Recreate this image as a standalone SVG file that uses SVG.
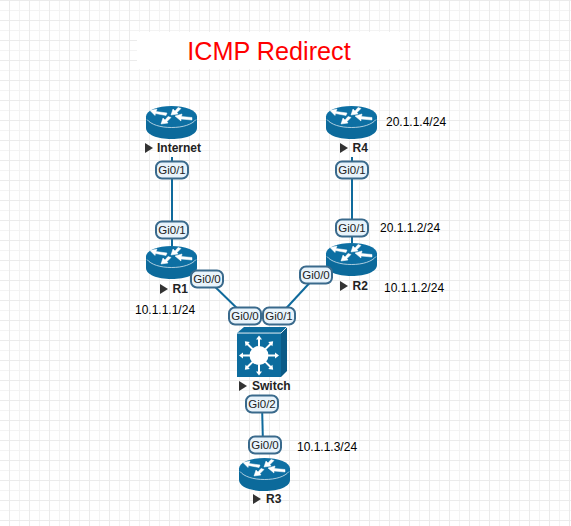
<svg xmlns="http://www.w3.org/2000/svg" width="571" height="526" viewBox="0 0 571 526">
<style>
.lbl{font-family:"Liberation Sans",Arial,sans-serif;font-size:12px;fill:#000}
.nm{font-family:"Liberation Sans",Arial,sans-serif;font-size:12px;font-weight:bold;fill:#222}
.pb{fill:#e8f3fb;stroke:#3a6a8c;stroke-width:2}
.pt{font-family:"Liberation Sans",Arial,sans-serif;font-size:11.500px;fill:#222;text-anchor:middle}
.cn{stroke:#0f6a9c;stroke-width:2;fill:none}
.tri{fill:#333}
</style>
<defs>
<pattern id="g" width="20" height="20" patternUnits="userSpaceOnUse" x="9" y="0">
<path d="M10.500 0V20M0 10.500H20" stroke="#f3f3f3" stroke-width="1" fill="none"/>
<path d="M0.500 0V20M0 0.500H20" stroke="#ebebeb" stroke-width="1" fill="none"/>
</pattern>
<g id="router">
<path d="M0 10.500V22C0 28.500 11 33 25.500 33S51 28.500 51 22V10.500Z" fill="#0c6a9b"/>
<ellipse cx="25.500" cy="10.500" rx="25.500" ry="10.500" fill="#0d6fa3"/>
<path d="M1 13.500C5 18.500 14 21.500 25.500 21.500S46 18.500 50 13.500" fill="none" stroke="#d5e6f0" stroke-width="0.800"/>
<g fill="#fff" stroke="#fff" stroke-width="0.500">
<path d="M4 4.500L11 3 10 5.500 21 7 20 9.500 9.500 7.500 9 9.500Z"/>
<path d="M29 10L36 8 35.500 10.500 46 11.500 46 14 35 13 35 15Z"/>
<path d="M25 9L27 3 29 5 32 1.500 35 2.500 31 6.500 32 8Z"/>
<path d="M15 18L17 12 19 14 22 10.500 25 11.500 21 15.500 22 17Z"/>
</g>
</g>
<g id="port"><rect x="-16" y="-8.500" width="32" height="17" rx="6" class="pb"/></g>
<g id="arw" fill="#fff"><path d="M-1 -9V-16H-3L0 -20 3 -16H1V-9Z"/></g>
</defs>
<rect width="571" height="526" fill="#fff"/>
<rect width="571" height="526" fill="url(#g)"/>
<rect x="137" y="32" width="263" height="37" fill="#fff"/>
<text x="269" y="60" font-family="Liberation Sans,Arial,sans-serif" font-size="25.200" fill="#ff0000" text-anchor="middle">ICMP Redirect</text>
<g id="connectors">
<path class="cn" d="M172 157V246"/>
<path class="cn" d="M352 157V243"/>
<path class="cn" d="M207 279L245 316"/>
<path class="cn" d="M316 276L279 316"/>
<path class="cn" d="M262 404L263 445"/>
</g>
<g id="Internet"><use href="#router" x="146" y="106"/><path class="tri" d="M145 143l8 5-8 5z"/><text class="nm" x="157" y="152">Internet</text></g>
<g id="R4"><use href="#router" x="326" y="106"/><path class="tri" d="M340 143l8 5-8 5z"/><text class="nm" x="352.500" y="152">R4</text></g>
<g id="R1"><use href="#router" x="146" y="246"/><path class="tri" d="M160 284l8 5-8 5z"/><text class="nm" x="172.500" y="293">R1</text></g>
<g id="R2"><use href="#router" x="326" y="243"/><path class="tri" d="M340 281l8 5-8 5z"/><text class="nm" x="352.500" y="290">R2</text></g>
<g id="R3"><use href="#router" x="239" y="458"/><path class="tri" d="M253 494l8 5-8 5z"/><text class="nm" x="266" y="503">R3</text></g>
<g id="Switch">
<path d="M237 333L244 327H287L281 333Z" fill="#0d6c9e"/>
<path d="M281 333L287 327V371L281 377Z" fill="#0a5a86"/>
<path d="M237 333H281M281 333L287 327" stroke="#fff" stroke-width="0.800" fill="none"/>
<rect x="237" y="333.500" width="44" height="43.500" fill="#0d6c9e"/>
<circle cx="259" cy="355.500" r="9.500" fill="#fff"/>
<g transform="translate(259 355.500)">
<use href="#arw"/><use href="#arw" transform="rotate(45)"/><use href="#arw" transform="rotate(90)"/><use href="#arw" transform="rotate(135)"/><use href="#arw" transform="rotate(180)"/><use href="#arw" transform="rotate(225)"/><use href="#arw" transform="rotate(270)"/><use href="#arw" transform="rotate(315)"/>
</g>
<path class="tri" d="M239 381l8 5-8 5z"/><text class="nm" x="252" y="390">Switch</text>
</g>
<g id="ports">
<use href="#port" x="172" y="170"/><text class="pt" x="172" y="174">Gi0/1</text>
<use href="#port" x="172" y="230"/><text class="pt" x="172" y="234">Gi0/1</text>
<use href="#port" x="352" y="170"/><text class="pt" x="352" y="174">Gi0/1</text>
<use href="#port" x="352" y="228"/><text class="pt" x="352" y="232">Gi0/1</text>
<use href="#port" x="207" y="279"/><text class="pt" x="207" y="283">Gi0/0</text>
<use href="#port" x="316" y="275"/><text class="pt" x="316" y="279">Gi0/0</text>
<use href="#port" x="245" y="316"/><text class="pt" x="245" y="320">Gi0/0</text>
<use href="#port" x="279" y="316"/><text class="pt" x="279" y="320">Gi0/1</text>
<use href="#port" x="262" y="404"/><text class="pt" x="262" y="408">Gi0/2</text>
<use href="#port" x="265" y="445"/><text class="pt" x="265" y="449">Gi0/0</text>
</g>
<text class="lbl" x="386" y="126">20.1.1.4/24</text>
<text class="lbl" x="380" y="232">20.1.1.2/24</text>
<text class="lbl" x="384" y="292">10.1.1.2/24</text>
<text class="lbl" x="135" y="314">10.1.1.1/24</text>
<text class="lbl" x="297" y="451">10.1.1.3/24</text>
</svg>
